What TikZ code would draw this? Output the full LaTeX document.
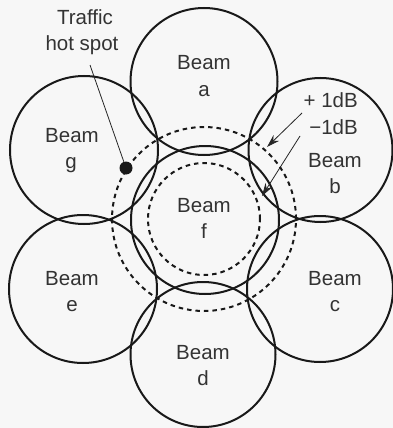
\documentclass[tikz,border=0pt]{standalone}
\usepackage{fontspec}
\setmainfont{Liberation Sans}
\usetikzlibrary{arrows.meta}
\begin{document}
\begin{tikzpicture}[x=1pt,y=-1pt,
  beam/.style={draw=black!90,line width=2pt,circle,inner sep=0pt,minimum size=#1},
  ring/.style={draw=black!90,line width=2pt,dash pattern=on 4.5pt off 4pt,circle,inner sep=0pt,minimum size=#1},
  lbl/.style={font=\fontsize{20.5}{26}\selectfont,text=black!80,inner sep=0pt,anchor=base},
  ptr/.style={line width=0.8pt,draw=black!85,-{Stealth[length=13pt,width=8pt]}},
  hot/.style={circle,fill=black!90,inner sep=0pt,minimum size=13pt}]
\fill[black!3] (0,0) rectangle (393,428);
\useasboundingbox (0,0) rectangle (393,428);
% beams
\node[beam=147pt] (ca) at (204,81.5) {};
\node[beam=148pt] (cf) at (205,220) {};
\node[beam=145pt] (cd) at (203,354.5) {};
\node[beam=148pt] (cg) at (84,150) {};
\node[beam=148pt] (ce) at (83,289) {};
\node[beam=144pt] (cb) at (320.5,150) {};
\node[beam=146pt] (cc) at (320,289) {};
% dashed contours
\node[ring=184pt] (outer) at (204,219) {};
\node[ring=112pt] (inner) at (204,219) {};
% labels
\node[lbl] (la1) at (204,70) {Beam};  \node[lbl] (la2) at (204,96) {a};
\node[lbl] (lg1) at (72,142) {Beam};   \node[lbl] (lg2) at (71,168) {g};
\node[lbl] (lb1) at (335,167) {Beam};  \node[lbl] (lb2) at (335,193) {b};
\node[lbl] (lf1) at (204,212) {Beam};  \node[lbl] (lf2) at (204,238) {f};
\node[lbl] (le1) at (72,285) {Beam};   \node[lbl] (le2) at (72,311) {e};
\node[lbl] (lc1) at (335,285) {Beam};  \node[lbl] (lc2) at (335,311) {c};
\node[lbl] (ld1) at (203,359) {Beam};  \node[lbl] (ld2) at (203,385) {d};
% traffic hot spot
\node[lbl] (t1) at (85,25) {Traffic};
\node[lbl] (t2) at (82,51) {hot spot};
\node[hot] (spot) at (126,168) {};
\draw[line width=0.8pt,draw=black!85] (90,65) -- (spot);
% dB labels
\node[lbl,anchor=base east] (p1) at (358,107) {+ 1dB};
\node[lbl,anchor=base east] (m1) at (358,134) {−1dB};
\coordinate (tp) at (267,147);
\coordinate (tm) at (262,196);
\draw[ptr] (302,113) -- (tp);
\draw[ptr] (300,136) -- (tm);
\end{tikzpicture}
\end{document}
